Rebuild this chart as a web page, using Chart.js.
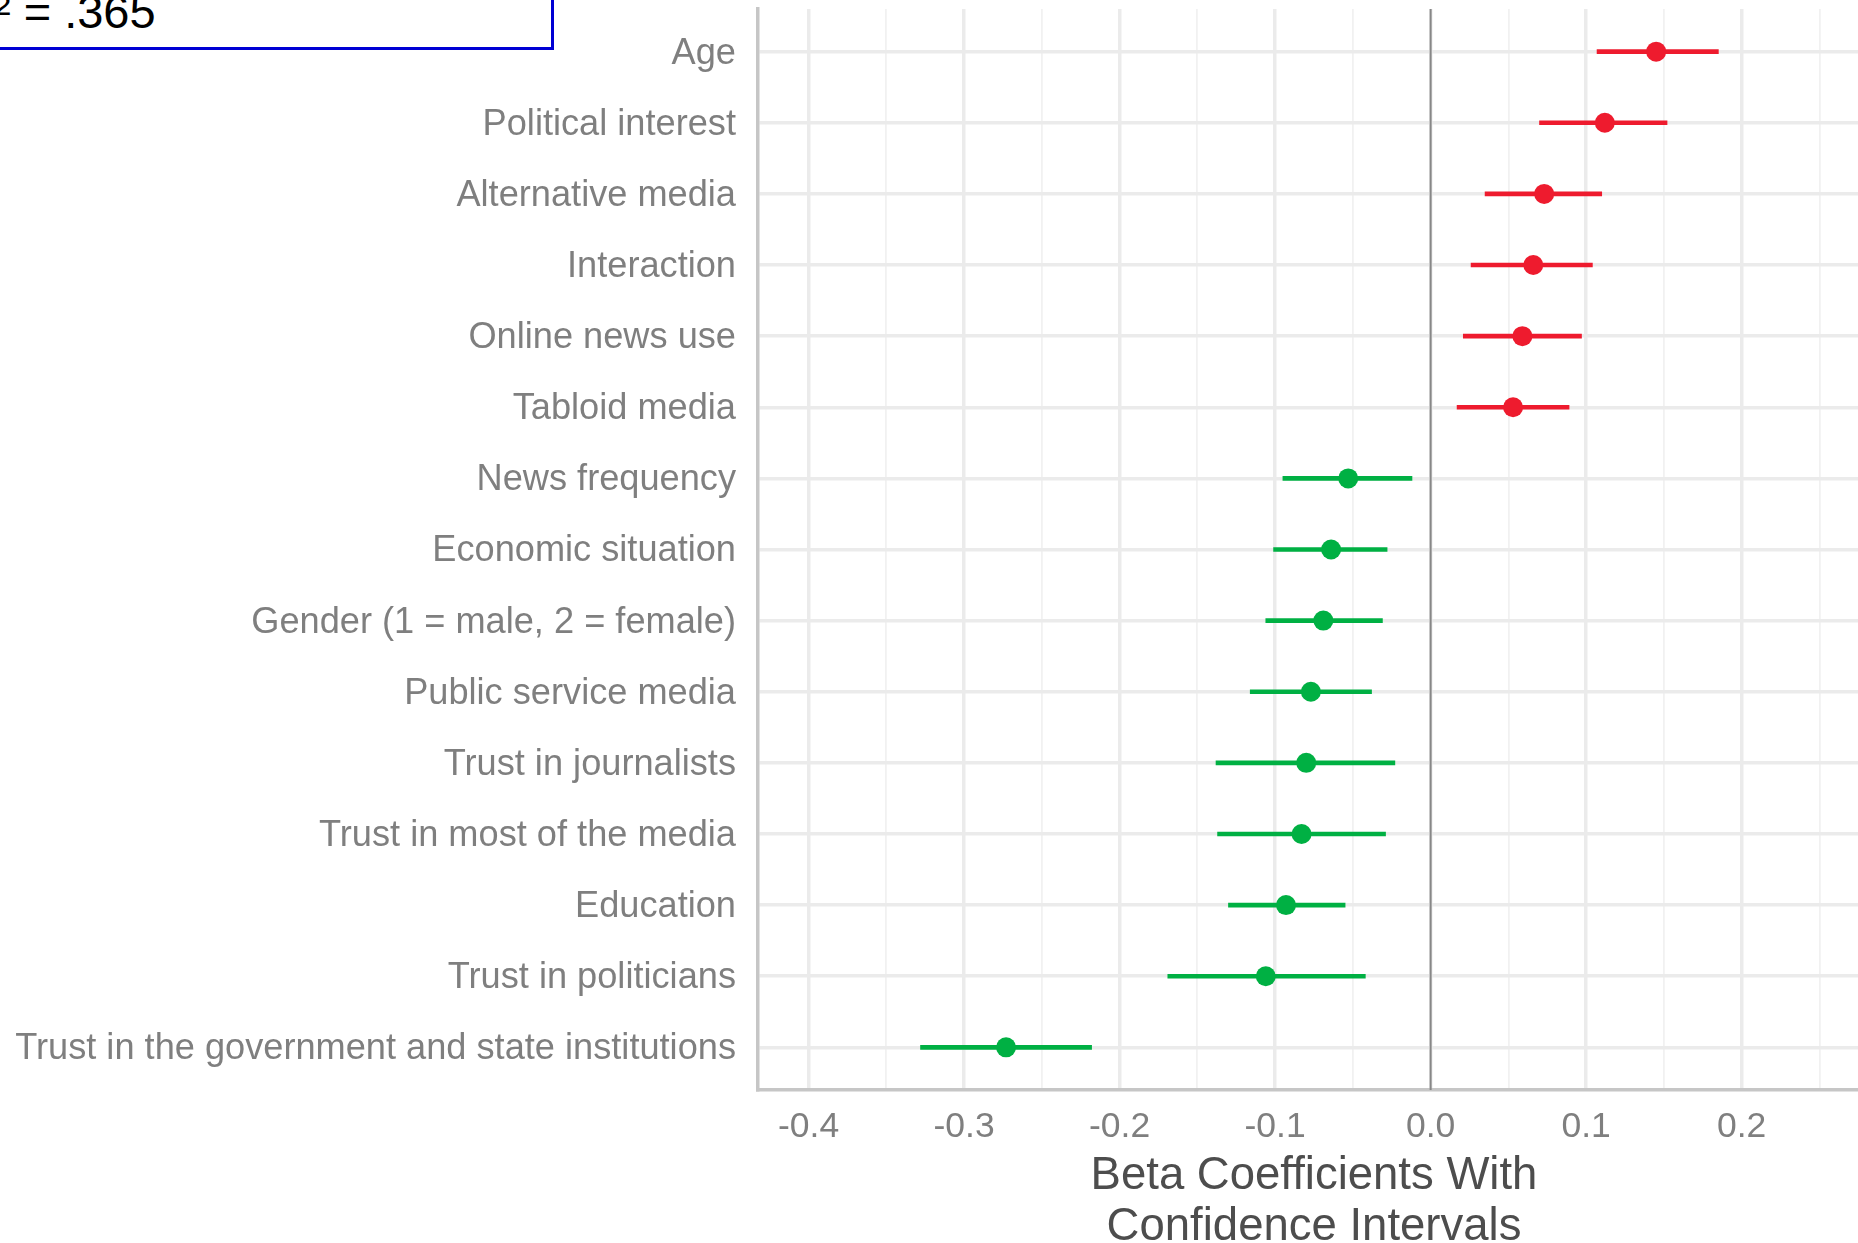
<!DOCTYPE html>
<html>
<head>
<meta charset="utf-8">
<script src="https://cdn.jsdelivr.net/npm/chart.js@4/dist/chart.umd.min.js"></script>
<style>
  html, body { margin: 0; padding: 0; background: #ffffff; overflow: hidden; }
  #wrap { position: relative; width: 1858px; height: 1243px; overflow: hidden; }
  #plot { position: absolute; left: 0; top: 0; }
  #fit {
    position: absolute; left: -60px; top: -60px; box-sizing: border-box;
    width: 614px; height: 110px; border: 3px solid #0000d4; background: #ffffff;
    z-index: 2;
  }
  #fit span {
    position: absolute; left: 18px; top: 45px; white-space: nowrap;
    font: 47px "Liberation Sans", Arial, sans-serif; line-height: 47px; color: #000000;
  }
</style>
</head>
<body>
<div id="wrap">
  <div id="fit"><span>R² = .365</span></div>
  <!-- the panel runs a little past the right and bottom edges of the page -->
  <canvas id="plot" width="1870" height="1252" style="width:1870px;height:1252px"></canvas>
</div>
<script>
// Predictors, top to bottom
const categories = [
  "Age",
  "Political interest",
  "Alternative media",
  "Interaction",
  "Online news use",
  "Tabloid media",
  "News frequency",
  "Economic situation",
  "Gender (1 = male, 2 = female)",
  "Public service media",
  "Trust in journalists",
  "Trust in most of the media",
  "Education",
  "Trust in politicians",
  "Trust in the government and state institutions"
];

// Standardised beta coefficients and their confidence bounds
const estimate = [0.145, 0.112, 0.073, 0.066, 0.059, 0.053, -0.053, -0.064, -0.069, -0.077, -0.080, -0.083, -0.093, -0.106, -0.273];
const lower    = [0.107, 0.070, 0.035, 0.026, 0.021, 0.017, -0.095, -0.101, -0.106, -0.116, -0.138, -0.137, -0.130, -0.169, -0.328];
const upper    = [0.185, 0.152, 0.110, 0.104, 0.097, 0.089, -0.012, -0.028, -0.031, -0.038, -0.023, -0.029, -0.055, -0.042, -0.218];

// Labelled breaks on the coefficient axis
const xTickLabels = ["-0.4", "-0.3", "-0.2", "-0.1", "0.0", "0.1", "0.2"];

const RED = "#ee1b2e";
const GREEN = "#00b043";
const colourFor = (i) => (estimate[i] >= 0 ? RED : GREEN);

const FONT = "'Liberation Sans', Arial, sans-serif";
const isMajor = (v) => Math.abs(Math.round(v * 20)) % 2 === 0;

const intervals = categories.map((c, i) => ({ y: i, x: [lower[i], upper[i]] }));
const points = categories.map((c, i) => ({ y: i, x: estimate[i] }));

new Chart(document.getElementById("plot"), {
  type: "bar",
  data: {
    datasets: [
      {
        type: "line",
        label: "zero",
        data: [{ x: 0, y: -0.6 }, { x: 0, y: 14.6 }],
        borderColor: "#878787",
        borderWidth: 2,
        pointRadius: 0,
        order: 3
      },
      {
        type: "bar",
        label: "CI",
        data: intervals,
        barThickness: 4,
        borderWidth: 0,
        backgroundColor: (ctx) => colourFor(ctx.dataIndex),
        order: 2
      },
      {
        type: "scatter",
        label: "Beta",
        data: points,
        pointRadius: 10,
        pointHoverRadius: 10,
        pointStyle: "circle",
        borderWidth: 0,
        backgroundColor: (ctx) => colourFor(ctx.dataIndex),
        order: 1
      }
    ]
  },
  options: {
    indexAxis: "y",
    responsive: false,
    animation: false,
    devicePixelRatio: 1,
    events: [],
    layout: { autoPadding: false, padding: { top: 9, left: 0, right: 0, bottom: 0 } },
    plugins: { legend: { display: false }, tooltip: { enabled: false }, title: { display: false } },
    scales: {
      x: {
        type: "linear",
        min: -0.4325,
        max: 0.2825,
        offset: false,
        grid: {
          offset: false,
          drawTicks: false,
          color: (ctx) => (isMajor(ctx.tick.value) ? "#ebebeb" : "#f1f1f1"),
          lineWidth: (ctx) => (isMajor(ctx.tick.value) ? 3.5 : 1.8)
        },
        border: { display: true, color: "#c6c6c6", width: 3.5 },
        ticks: {
          stepSize: 0.05,
          includeBounds: false,
          autoSkip: false,
          maxRotation: 0,
          padding: 16,
          color: "#7f7f7f",
          font: { family: FONT, size: 35.5 },
          callback: (v) => {
            if (!isMajor(v)) return "";
            const idx = Math.round(v * 10) + 4;
            return xTickLabels[idx] !== undefined ? xTickLabels[idx] : "";
          }
        },
        title: {
          display: true,
          text: ["Beta Coefficients With", "Confidence Intervals"],
          color: "#4d4d4d",
          font: { family: FONT, size: 45.5, lineHeight: 1.1 },
          padding: { top: 4, bottom: 0 }
        },
        afterFit: (s) => { s.height = 162; s.paddingLeft = 0; s.paddingRight = 0; }
      },
      y: {
        type: "linear",
        reverse: true,
        min: -0.6,
        max: 14.6,
        offset: false,
        grid: { offset: false, drawTicks: false, color: "#ebebeb", lineWidth: 3.5 },
        border: { display: true, color: "#c6c6c6", width: 3.5 },
        ticks: {
          stepSize: 1,
          includeBounds: false,
          autoSkip: false,
          padding: 22,
          labelOffset: 2,
          color: "#7f7f7f",
          font: { family: FONT, size: 36.2 },
          callback: (v) => (Number.isInteger(v) && categories[v] !== undefined ? categories[v] : "")
        },
        afterFit: (s) => { s.width = 758; s.paddingTop = 0; s.paddingBottom = 0; }
      }
    }
  }
});
</script>
</body>
</html>
